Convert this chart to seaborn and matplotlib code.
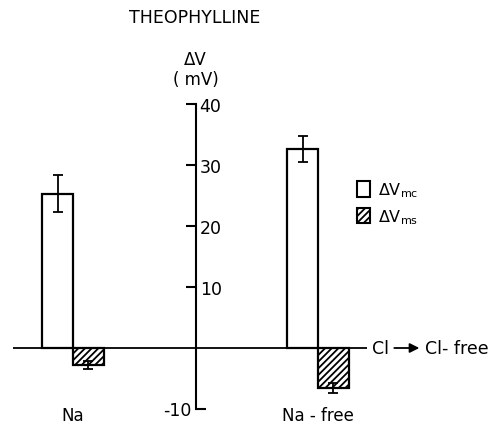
import matplotlib
matplotlib.use("Agg")
import matplotlib.pyplot as plt
import matplotlib.lines as mlines
from matplotlib.patches import Patch
import pandas as pd
import seaborn as sns

# Data
conditions = ["Na", "Na-free"]
components = ["mc", "ms"]
dv_mc = [25.3, 32.6]
dv_ms = [-2.8, -6.6]
err_mc = [3.0, 2.1]
err_ms = [0.7, 0.8]
yticks = [-10, 10, 20, 30, 40]
tick_labels = ["Na", "Na - free"]

sns.set_theme(style="white")
plt.rcParams["font.family"] = ["DejaVu Sans"]
plt.rcParams["mathtext.fontset"] = "dejavusans"
plt.rcParams["hatch.linewidth"] = 1.3
plt.rcParams["hatch.color"] = "black"
for key in ["text.color", "axes.labelcolor", "xtick.color", "ytick.color"]:
    plt.rcParams[key] = "black"

data = pd.DataFrame({
    "condition": conditions * 2,
    "component": [components[0]] * 2 + [components[1]] * 2,
    "value": dv_mc + dv_ms,
})

fig = plt.figure(figsize=(4.93, 4.27), dpi=100)
ax = fig.add_axes([13 / 493, 17 / 427, 354 / 493, 305 / 427])

sns.barplot(data=data, x="condition", y="value", hue="component",
            order=conditions, hue_order=components, palette=["white", "white"],
            width=0.25, errorbar=None, edgecolor="black", linewidth=1.6,
            legend=False, ax=ax)

# hatching for the second series and error bars
errs = [err_mc, err_ms]
bar_groups = list(ax.containers)
for i, cont in enumerate(bar_groups):
    xs = []
    for bar in cont:
        bar.set_edgecolor("black")
        bar.set_linewidth(1.6)
        if i == 1:
            bar.set_hatch("/////")
        xs.append(bar.get_x() + bar.get_width() / 2)
    vals = dv_mc if i == 0 else dv_ms
    ax.errorbar(xs, vals, yerr=errs[i], fmt="none", ecolor="black",
                elinewidth=1.3, capsize=3.3, capthick=1.3, zorder=5)

ax.set_xlim(-0.245, 1.2)
ax.set_ylim(-10, 40)
ax.axhline(0, color="black", lw=1.3, zorder=4)

for s in ["left", "top", "bottom"]:
    ax.spines[s].set_visible(False)
ax.spines["right"].set_position(("data", 0.5))
ax.spines["right"].set_color("black")
ax.spines["right"].set_linewidth(1.5)
ax.yaxis.tick_right()
ax.set_yticks(yticks)
ax.set_yticklabels([str(t) for t in yticks])
ax.tick_params(axis="y", direction="in", length=7, width=1.5, pad=3,
               labelsize=12.5, color="black", right=True, left=False)
ax.tick_params(axis="x", length=0, pad=-2, labelsize=12)
ax.set_xticks(range(len(conditions)))
ax.set_xticklabels(tick_labels)
ax.set_xlabel("")
ax.set_ylabel("")

# -10 tick points the other way, label on the left side
t0 = ax.yaxis.get_major_ticks()[0]
t0.tick2line.set_marker(mlines.TICKRIGHT)
t0.label2.set_visible(False)
ax.annotate("-10", xy=(0.5, -10), xytext=(-3, -1), textcoords="offset points",
            ha="right", va="center", fontsize=12.5)

# axis label above the spine
ax.text(0.5, 42.6, "ΔV\n( mV)", ha="center", va="bottom", fontsize=12,
        linespacing=1.15, clip_on=False)

# Cl -> Cl-free annotation at the zero line
ax.text(1.222, 0, "Cl", ha="left", va="center", fontsize=12.5, clip_on=False)
ax.annotate("", xy=(1.425, 0), xytext=(1.3, 0),
            arrowprops=dict(arrowstyle="-|>", color="black", lw=1.3,
                            mutation_scale=14), annotation_clip=False)
ax.text(1.435, 0, "Cl- free", ha="left", va="center", fontsize=12.5, clip_on=False)

fig.text(195 / 493, 1 - 18 / 427, "THEOPHYLLINE", ha="center", va="center",
         fontsize=12.5)

handles = [Patch(facecolor="white", edgecolor="black", linewidth=1.5),
           Patch(facecolor="white", edgecolor="black", linewidth=1.5, hatch="/////")]
labels = [r"$\Delta\mathrm{V}_{\mathrm{mc}}$", r"$\Delta\mathrm{V}_{\mathrm{ms}}$"]
fig.legend(handles, labels, loc="upper left", bbox_to_anchor=(343 / 493, 1 - 167 / 427),
           frameon=False, fontsize=11.5, handlelength=0.8, handleheight=1.1,
           handletextpad=0.5, labelspacing=0.5)

fig.savefig("out.png", dpi=100)
